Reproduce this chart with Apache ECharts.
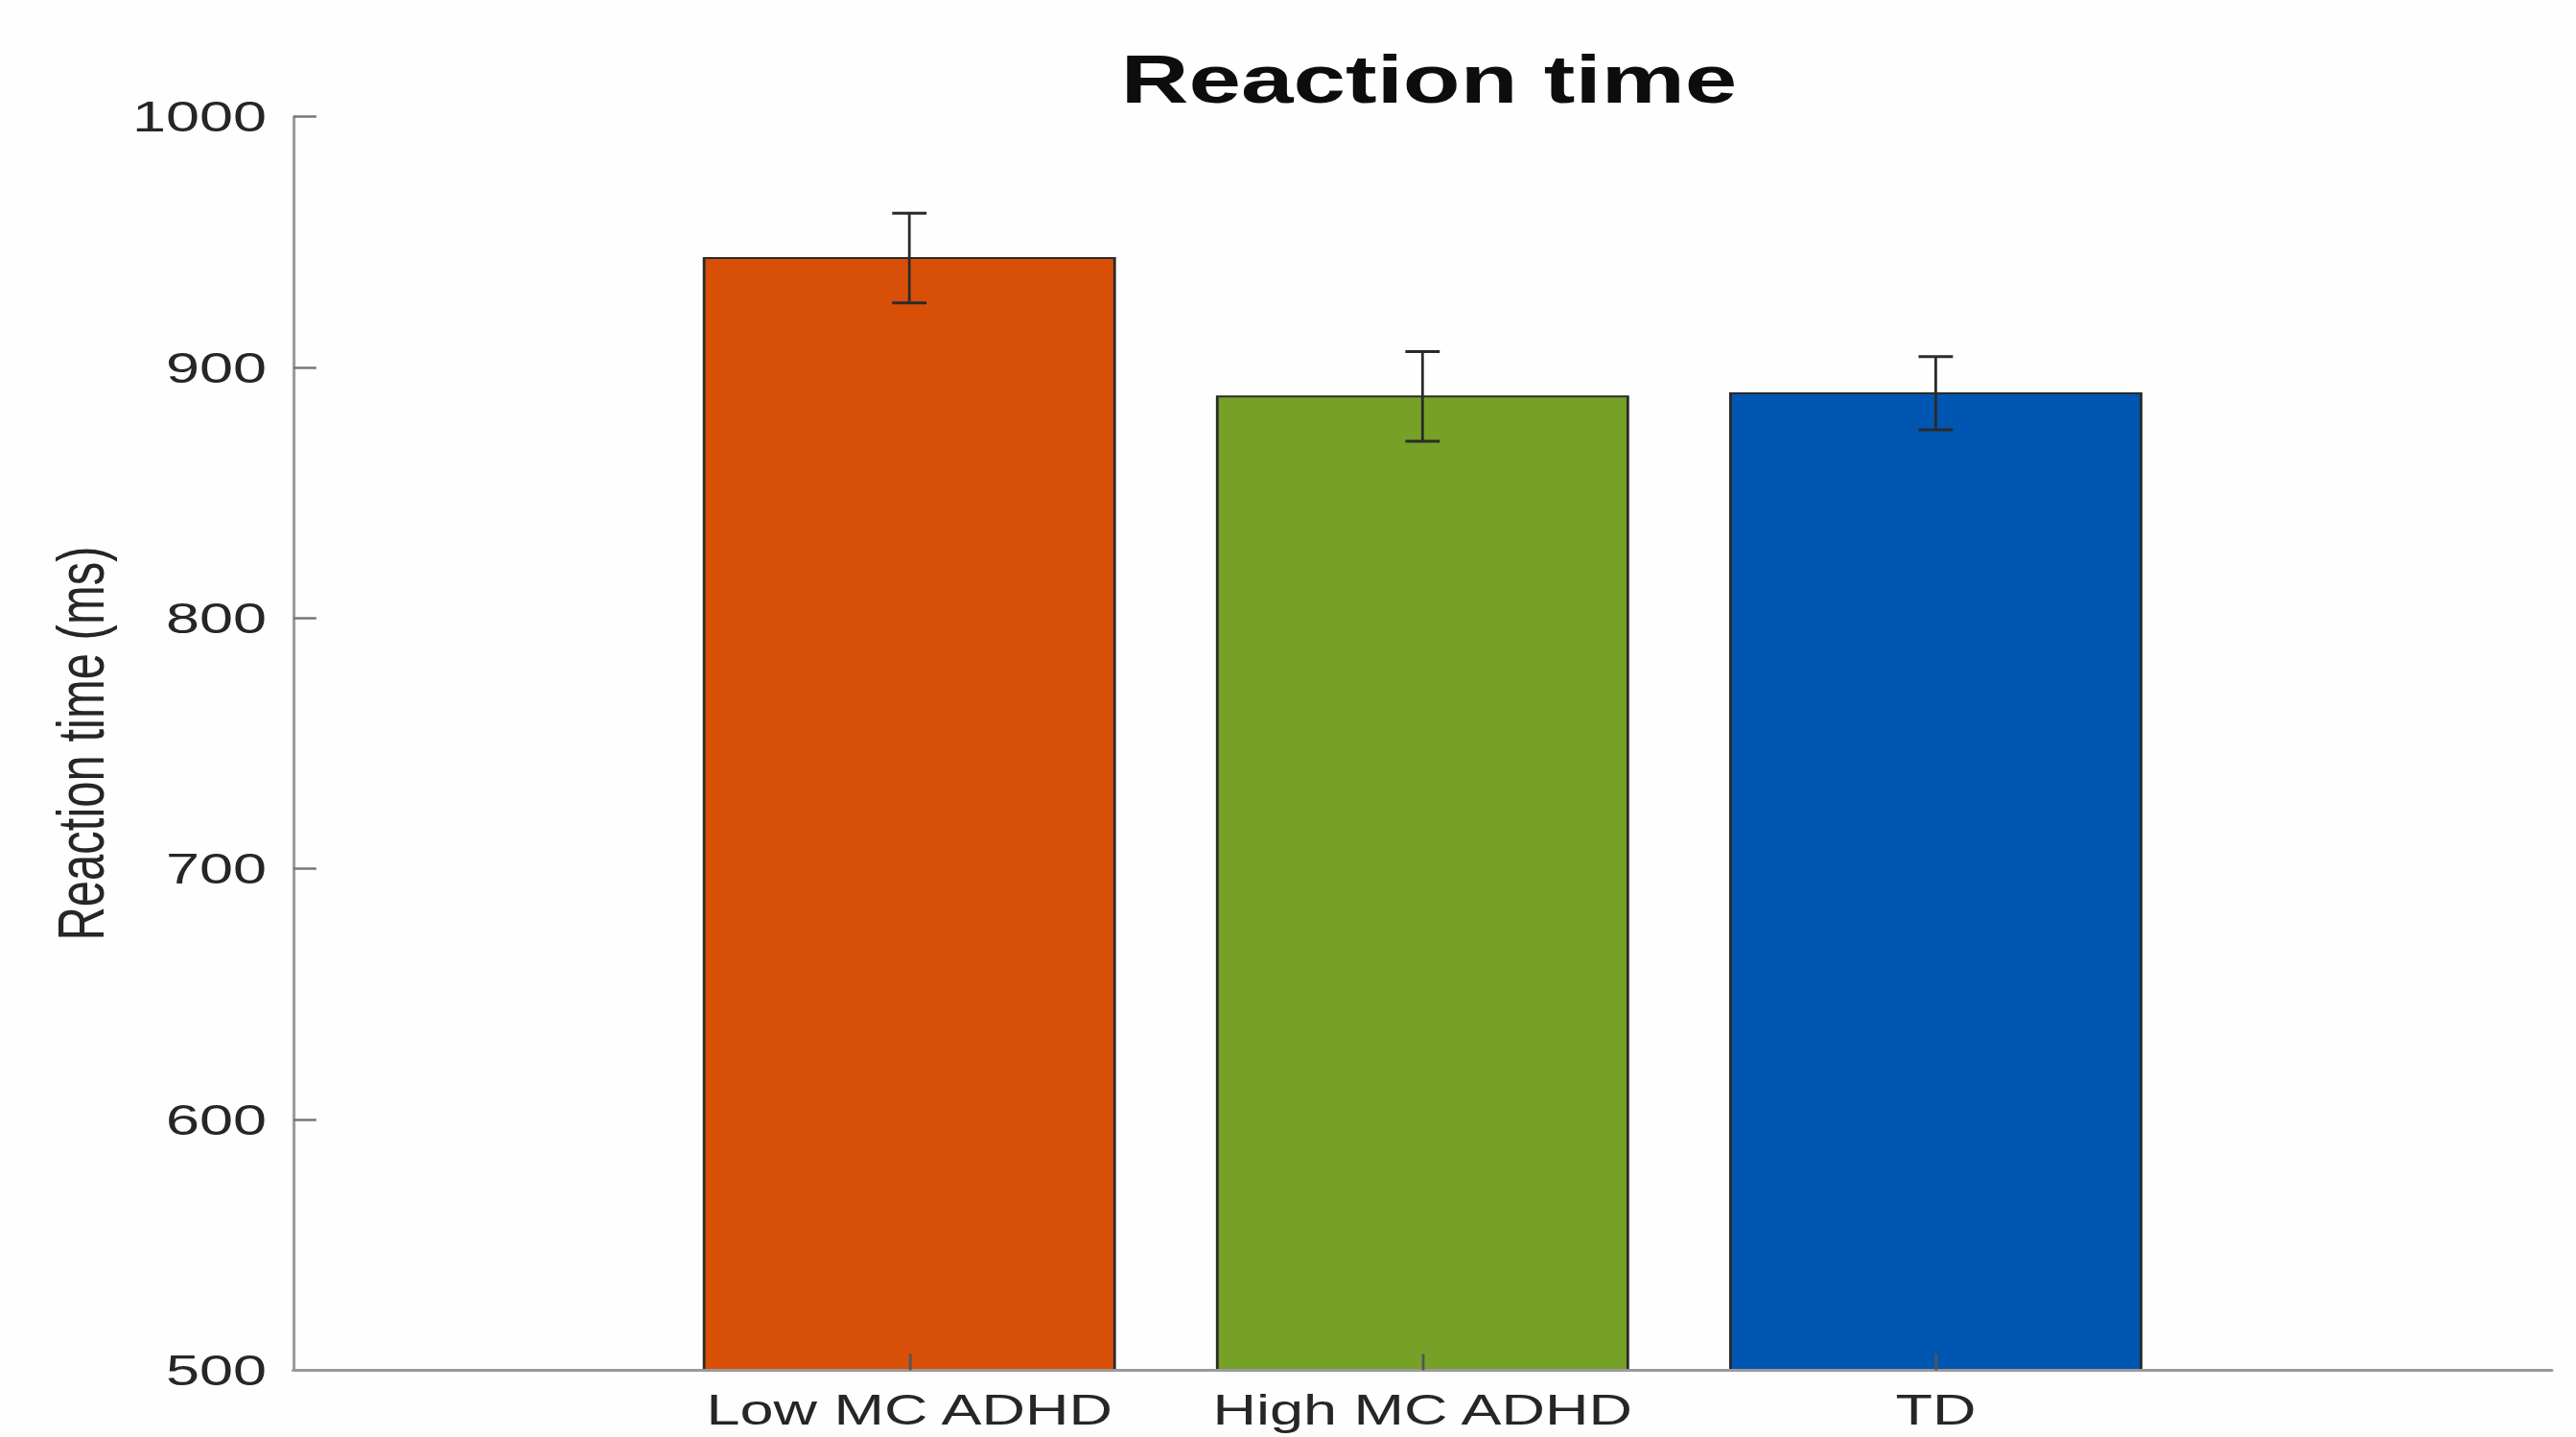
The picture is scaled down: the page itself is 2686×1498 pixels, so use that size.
<!DOCTYPE html>
<html>
<head>
<meta charset="utf-8">
<script src="https://cdn.jsdelivr.net/npm/echarts@6/dist/echarts.min.js"></script>
<style>
  html, body { margin: 0; padding: 0; background: #fefefe; }
  #wrap { width: 2686px; height: 1498px; overflow: hidden; background: #fefefe; }
  #chart { width: 1918.57px; height: 1498px; transform: scaleX(1.4); transform-origin: 0 0; }
</style>
</head>
<body>
<div id="wrap"><div id="chart"></div></div>
<script>
// ---- data ----
const categories = ['Low MC ADHD', 'High MC ADHD', 'TD'];
const meanRT = [943.6, 888.4, 889.7];
const errRT = [17.9, 17.9, 14.6];
const barColors = ['#D84F08', '#75A127', '#0056B0'];
const yTicks = [500, 600, 700, 800, 900, 1000];

const FONT = '"Liberation Sans", Arial, Helvetica, sans-serif';
const chart = echarts.init(document.getElementById('chart'), null, { renderer: 'svg' });

const seriesData = categories.map((c, i) => [i + 1, meanRT[i], errRT[i]]);

chart.setOption({
  animation: false,
  backgroundColor: '#fefefe',
  title: {
    text: 'Reaction time',
    left: 1059.3,
    textAlign: 'center',
    top: 43,
    textStyle: { fontFamily: FONT, fontSize: 70, fontWeight: 'bold', color: '#0d0d0d' }
  },
  grid: { left: 218.6, right: 18.6, top: 121.7, bottom: 69.7 },
  xAxis: {
    type: 'value',
    min: -0.2,
    max: 4.2,
    z: 10,
    splitLine: { show: false },
    axisLine: { show: true, onZero: false, lineStyle: { color: '#9a9a9a', width: 3 } },
    axisTick: { show: true, inside: true, length: 17, customValues: [1, 2, 3], lineStyle: { color: '#555', width: 2 } },
    axisLabel: {
      customValues: [1, 2, 3],
      formatter: v => categories[Math.round(v) - 1] || '',
      fontFamily: FONT, fontSize: 45, color: '#262626', margin: 19
    }
  },
  yAxis: {
    type: 'value',
    min: yTicks[0],
    max: yTicks[yTicks.length - 1],
    interval: 100,
    name: 'Reaction time (ms)',
    nameLocation: 'middle',
    nameGap: 134,
    nameTextStyle: { fontFamily: FONT, fontSize: 49, color: '#262626' },
    splitLine: { show: false },
    axisLine: { show: true, onZero: false, lineStyle: { color: '#9a9a9a', width: 2.2 } },
    axisTick: { show: true, inside: true, length: 17, lineStyle: { color: '#777', width: 2.5 } },
    axisLabel: { formatter: v => String(v), fontFamily: FONT, fontSize: 45, color: '#262626', margin: 20 }
  },
  series: [{
    type: 'custom',
    data: seriesData,
    encode: { x: 0, y: 1 },
    renderItem: function (params, api) {
      const x = api.value(0), y = api.value(1), e = api.value(2);
      const base = api.coord([x, yTicks[0]]);
      const top = api.coord([x, y]);
      const w = api.size([0.8, 0])[0];
      const eTop = api.coord([x, y + e]);
      const eBot = api.coord([x, y - e]);
      const cap = api.size([0.067, 0])[0] / 2;
      const col = barColors[params.dataIndex];
      return {
        type: 'group',
        children: [
          { type: 'rect', shape: { x: top[0] - w / 2, y: top[1], width: w, height: base[1] - top[1] },
            style: { fill: col, stroke: '#2a2a2a', lineWidth: 2 } },
          { type: 'line', shape: { x1: eTop[0], y1: eTop[1], x2: eBot[0], y2: eBot[1] },
            style: { stroke: '#2b2b2b', lineWidth: 2 } },
          { type: 'line', shape: { x1: eTop[0] - cap, y1: eTop[1], x2: eTop[0] + cap, y2: eTop[1] },
            style: { stroke: '#2b2b2b', lineWidth: 3 } },
          { type: 'line', shape: { x1: eBot[0] - cap, y1: eBot[1], x2: eBot[0] + cap, y2: eBot[1] },
            style: { stroke: '#2b2b2b', lineWidth: 3 } }
        ]
      };
    }
  }]
});
</script>
</body>
</html>
